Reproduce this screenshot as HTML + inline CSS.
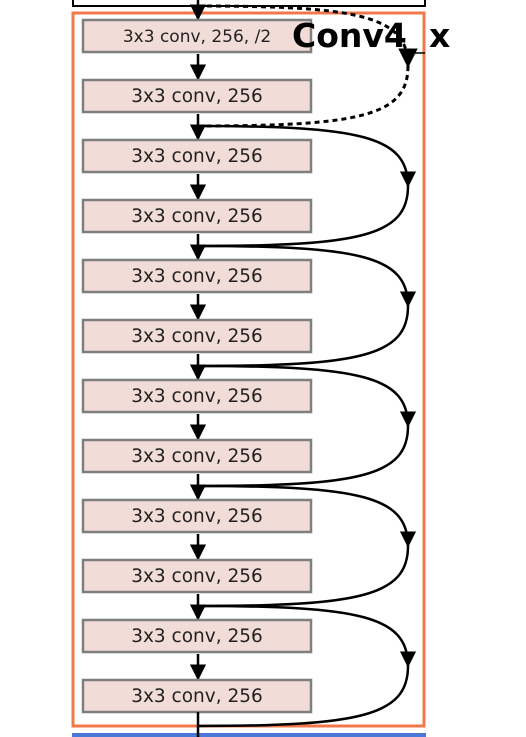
<!DOCTYPE html>
<html><head><meta charset="utf-8"><style>
html,body{margin:0;padding:0;background:#fff;width:526px;height:737px;overflow:hidden}
svg{display:block}
</style></head><body>
<svg width="526" height="737" viewBox="0 0 526 737">
<defs>
<marker id="ah" viewBox="0 0 10 10" refX="9" refY="5" markerWidth="6.5" markerHeight="6.5" orient="auto"><path d="M0,0 L10,5 L0,10 z" fill="#000"/></marker>
</defs>
<rect x="73" y="-4" width="352" height="10" fill="none" stroke="#000" stroke-width="2"/>
<rect x="73" y="13" width="351" height="713" fill="none" stroke="#f0784a" stroke-width="3"/>
<rect x="72" y="733" width="354" height="6" fill="#4a78d8"/>
<g id="g"></g>
<text x="292" y="47" font-family="DejaVu Sans, sans-serif" font-weight="bold" font-size="33" fill="#000">Conv4<tspan x="429">x</tspan></text>
<line x1="408" y1="53" x2="425" y2="53" stroke="#000" stroke-width="1.5"/>
</svg>
<script>
const labels=["3x3 conv, 256, /2","3x3 conv, 256","3x3 conv, 256","3x3 conv, 256","3x3 conv, 256","3x3 conv, 256","3x3 conv, 256","3x3 conv, 256","3x3 conv, 256","3x3 conv, 256","3x3 conv, 256","3x3 conv, 256"];
const g=document.getElementById('g');
const NS='http://www.w3.org/2000/svg';
function mk(t,a){const e=document.createElementNS(NS,t);for(const k in a)e.setAttribute(k,a[k]);g.appendChild(e);return e;}
const cx=198;
labels.forEach((l,i)=>{
 const y=20+60*i;
 const a=mk('line',{x1:cx,y1:y-26,x2:cx,y2:y-1,stroke:'#000','stroke-width':2.5,'marker-end':'url(#ah)'});
 
 
 const r=mk('rect',{x:83,y:y,width:228,height:32,fill:'#f2dcd8',stroke:'#7f7f7f','stroke-width':2.5});
 
 
 const t=mk('text',{x:197,y:y+22,'text-anchor':'middle','font-family':'DejaVu Sans, sans-serif','font-size':i===0?17:18.5,fill:'#222'});
 t.textContent=l;
 
 
});
const last=mk('line',{x1:cx,y1:712,x2:cx,y2:737,stroke:'#000','stroke-width':2.5});


for(let k=0;k<6;k++){
 const y0=6+120*k, y1=y0+120, ym=y0+60;
 const dashed=k===0;
 const p=mk('path',{d:`M${cx},${y0} C360,${y0} 408,${y0+10} 408,${ym}`,fill:'none',stroke:'#000','stroke-width':dashed?3:2.5,'stroke-dasharray':dashed?'5,4':'none','marker-end':'url(#ah)'});
 
 
 const p2=mk('path',{d:`M408,${ym} C408,${y1-10} 360,${y1} ${cx},${y1}`,fill:'none',stroke:'#000','stroke-width':dashed?3:2.5,'stroke-dasharray':dashed?'5,4':'none'});
 
 
}
</script>
</body></html>
